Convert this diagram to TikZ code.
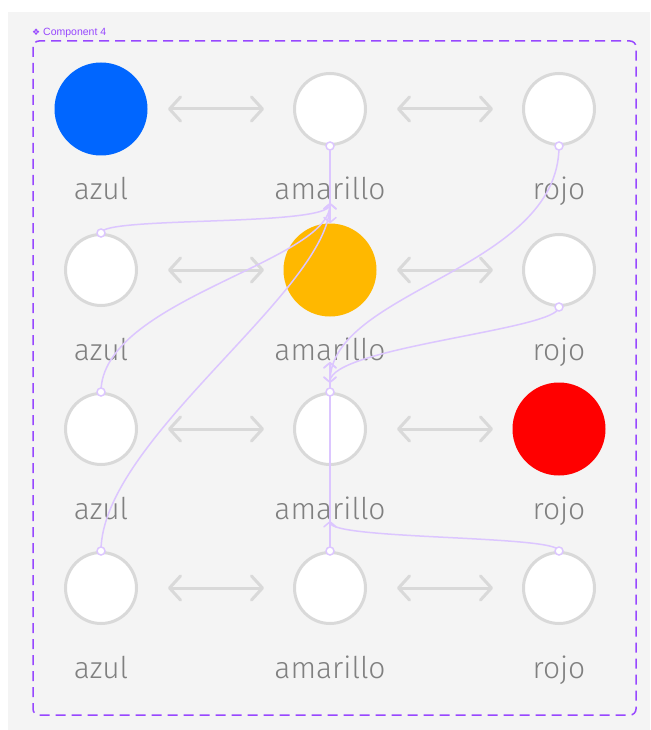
\documentclass[tikz,border=0pt]{standalone}
\usepackage{fontspec}
\newfontfamily\lblfont{Fira Sans Light}
\newfontfamily\uifont{Liberation Sans}
\newfontfamily\symfont{DejaVu Sans}
\usetikzlibrary{arrows.meta}
\definecolor{bgc}{HTML}{F4F4F4}
\definecolor{compc}{HTML}{9747FF}
\definecolor{circg}{HTML}{D9D9D9}
\definecolor{connc}{HTML}{DCC6FF}
\definecolor{labc}{HTML}{808080}
\definecolor{bluec}{HTML}{0066FF}
\definecolor{yellowc}{HTML}{FFB800}
\definecolor{redc}{HTML}{FF0000}
\tikzset{
  wc/.style={circle, draw=circg, line width=3pt, fill=white, minimum size=71pt, inner sep=0pt},
  cc/.style={circle, fill=#1, minimum size=93pt, inner sep=0pt},
  lab/.style={anchor=base, text=labc, font=\lblfont\fontsize{30}{34}\selectfont, inner sep=0pt},
  garrow/.style={draw=circg, line width=3pt, line cap=round, {Straight Barb[length=11pt,width=24pt,round]}-{Straight Barb[length=11pt,width=24pt,round]}},
  conn/.style={draw=connc, line width=1.5pt, -{Straight Barb[length=5pt,width=12pt,round]}},
  sdot/.style={circle, draw=connc, line width=1.5pt, fill=white, minimum size=8pt, inner sep=0pt},
  compbox/.style={draw=compc, line width=1.5pt, dash pattern=on 10pt off 6pt, rounded corners=6pt}
}
\begin{document}
\begin{tikzpicture}[x=1pt,y=-1pt]
\useasboundingbox (0,0) rectangle (650,730);
\fill[white] (0,0) rectangle (650,730);
\fill[bgc] (8,12) rectangle (650,730);
\draw[compbox] (33,41) rectangle (636,715);
\node[anchor=west, text=compc, font=\uifont\fontsize{10.5}{12}\selectfont, inner sep=0pt] (clab) at (32,33) {{\symfont\fontsize{9}{12}\selectfont ❖} Component 4};

% circles
\node[cc=bluec] (c11) at (101,109) {};
\node[wc] (c12) at (330,109) {};
\node[wc] (c13) at (559,109) {};
\node[wc] (c21) at (101,270) {};
\node[cc=yellowc] (c22) at (330,270) {};
\node[wc] (c23) at (559,270) {};
\node[wc] (c31) at (101,429) {};
\node[wc] (c32) at (330,429) {};
\node[cc=redc] (c33) at (559,429) {};
\node[wc] (c41) at (101,588) {};
\node[wc] (c42) at (330,588) {};
\node[wc] (c43) at (559,588) {};

% labels
\foreach \r/\y in {1/199,2/360,3/519,4/678}{
  \node[lab] (l\r1) at (101,\y) {azul};
  \node[lab] (l\r2) at (330,\y) {amarillo};
  \node[lab] (l\r3) at (559,\y) {rojo};
}

% gray double arrows
\foreach \r/\y in {1/109,2/270,3/429,4/588}{
  \coordinate (g\r a) at (168,\y);
  \coordinate (g\r b) at (264,\y);
  \coordinate (g\r c) at (397,\y);
  \coordinate (g\r d) at (493,\y);
  \draw[garrow] (g\r a) -- (g\r b);
  \draw[garrow] (g\r c) -- (g\r d);
}

% connector targets
\coordinate (t12) at (330,203);
\coordinate (t32) at (330,383);
\coordinate (b22) at (330,362);
\coordinate (b32) at (330,521);

% connectors
\draw[conn] (c12.south) -- (c22.north);
\draw[conn] (c21.north) .. controls +(0,-17) and +(0,24) .. (t12);
\draw[conn] (c31.north) .. controls +(0,-92) and +(0,59) .. (t12);
\draw[conn] (c41.north) .. controls +(0,-111) and +(0,87) .. (t12);
\draw[conn] (c13.south) .. controls +(0,124) and +(0,-93) .. (t32);
\draw[conn] (c23.south) .. controls +(0,23) and +(0,-36) .. (t32);
\draw[conn] (c32.north) -- (b22);
\draw[conn] (c42.north) -- (b22);
\draw[conn] (c43.north) .. controls +(0,-16) and +(0,19) .. (b32);

% start dots
\foreach \n/\a in {c12/south,c21/north,c31/north,c41/north,c13/south,c23/south,c32/north,c42/north,c43/north}{
  \node[sdot] at (\n.\a) {};
}
\end{tikzpicture}
\end{document}
